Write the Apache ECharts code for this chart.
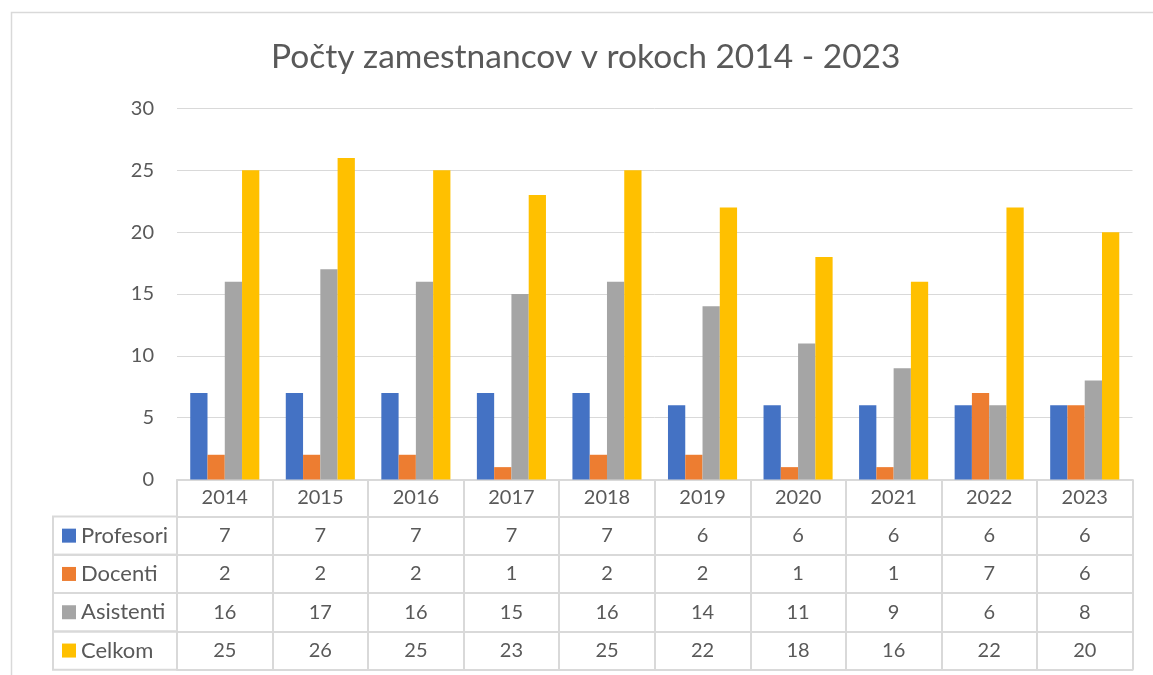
<!DOCTYPE html>
<html>
<head>
<meta charset="utf-8">
<script src="https://cdn.jsdelivr.net/npm/echarts@6/dist/echarts.min.js"></script>
<style>
  html, body { margin: 0; padding: 0; background: #fff; }
  #chart { width: 1153px; height: 675px; }
</style>
</head>
<body>
<div id="chart"></div>
<script>
// data
const years = ['2014', '2015', '2016', '2017', '2018', '2019', '2020', '2021', '2022', '2023'];
const profesori = [7, 7, 7, 7, 7, 6, 6, 6, 6, 6];
const docenti = [2, 2, 2, 1, 2, 2, 1, 1, 7, 6];
const asistenti = [16, 17, 16, 15, 16, 14, 11, 9, 6, 8];
const celkom = [25, 26, 25, 23, 25, 22, 18, 16, 22, 20];
const yTicks = [0, 5, 10, 15, 20, 25, 30];

const FONT = 'Lato';
const TEXT = '#595959';
const LINE = '#d9d9d9';
const headerH = 37;
const rowH = 38.3;

const seriesDefs = [
  { name: 'Profesori', color: '#4472C4', values: profesori },
  { name: 'Docenti', color: '#ED7D31', values: docenti },
  { name: 'Asistenti', color: '#A5A5A5', values: asistenti },
  { name: 'Celkom', color: '#FFC000', values: celkom }
];

// one x axis per table row, the row's values are the axis labels
function tableRow(def, k) {
  return {
    type: 'category',
    data: years,
    position: 'bottom',
    offset: headerH + rowH * k,
    axisLine: { show: true, lineStyle: { color: LINE, width: 2 } },
    axisTick: { show: true, interval: 0, length: rowH, lineStyle: { color: LINE, width: 2 } },
    axisLabel: {
      interval: 0, margin: 0, lineHeight: rowH, fontSize: 20, color: TEXT, fontFamily: FONT,
      formatter: (v, i) => String(def.values[i])
    },
    // the legend cell on the left of the row
    name: '{g|}{sq|}{t|' + def.name + '}',
    nameLocation: 'start',
    nameGap: 0,
    nameMoveOverlap: false,
    nameTextStyle: {
      align: 'right', verticalAlign: 'top',
      height: rowH, lineHeight: rowH,
      padding: 0,
      borderColor: LINE, borderWidth: 2,
      rich: {
        g: { width: 9, align: 'left' },
        sq: { width: 14, height: 14, backgroundColor: def.color, align: 'left' },
        t: { width: 96, fontSize: 22, color: TEXT, fontFamily: FONT, align: 'left', padding: [0, 0, 0, 5] }
      }
    }
  };
}

const xAxes = [{
  type: 'category',
  data: years,
  position: 'bottom',
  axisLine: { show: true, lineStyle: { color: LINE, width: 2 } },
  axisTick: { show: true, interval: 0, length: headerH, lineStyle: { color: LINE, width: 2 } },
  axisLabel: { interval: 0, margin: 0, lineHeight: headerH, fontSize: 20, color: TEXT, fontFamily: FONT }
}];
seriesDefs.forEach((d, k) => xAxes.push(tableRow(d, k)));
// bottom border of the table
xAxes.push({
  type: 'category',
  data: years,
  position: 'bottom',
  offset: headerH + rowH * 4,
  axisLine: { show: true, lineStyle: { color: LINE, width: 2 } },
  axisTick: { show: false },
  axisLabel: { show: false }
});

const chart = echarts.init(document.getElementById('chart'));
chart.setOption({
  animation: false,
  textStyle: { fontFamily: FONT },
  title: {
    text: 'Počty zamestnancov v rokoch 2014 - 2023',
    left: 266,
    top: 35,
    textStyle: { fontSize: 33.5, fontWeight: 'normal', color: TEXT, fontFamily: FONT }
  },
  graphic: [{
    type: 'rect',
    left: 9, top: 10, z: -10, silent: true,
    shape: { width: 1200, height: 700 },
    style: { fill: 'none', stroke: LINE, lineWidth: 1.5 }
  }],
  grid: {
    left: 177, top: 108.5, width: 955.5, height: 371,
    outerBoundsMode: 'none'
  },
  xAxis: xAxes,
  yAxis: {
    type: 'value',
    min: yTicks[0],
    max: yTicks[yTicks.length - 1],
    interval: 5,
    axisLine: { show: false },
    axisTick: { show: false },
    axisLabel: { fontSize: 20, color: TEXT, fontFamily: FONT, margin: 23 },
    splitLine: { lineStyle: { color: LINE, width: 1 } }
  },
  series: seriesDefs.map(d => ({
    name: d.name,
    type: 'bar',
    xAxisIndex: 0,
    data: d.values,
    barGap: '0%',
    barCategoryGap: '27.7%',
    itemStyle: { color: d.color }
  }))
});
</script>
</body>
</html>
